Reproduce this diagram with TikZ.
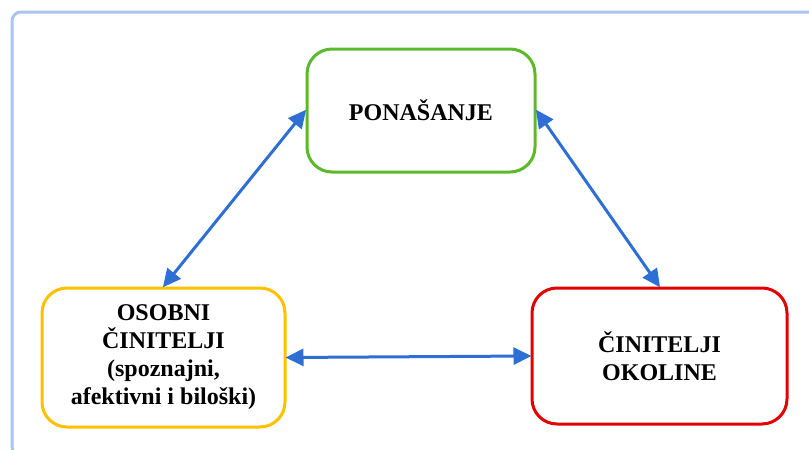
\documentclass[tikz,border=0pt]{standalone}
\usepackage{fontspec}
\setmainfont{Liberation Serif}
\usepackage{tikz}
\usetikzlibrary{arrows.meta}
\definecolor{frameblue}{HTML}{A9C5EC}
\definecolor{boxgreen}{HTML}{5DB92C}
\definecolor{boxyellow}{HTML}{FFC000}
\definecolor{boxred}{HTML}{E20000}
\definecolor{linkblue}{HTML}{2D6FD4}
\tikzstyle{factor}=[rectangle,rounded corners=25pt,line width=3pt,fill=white,align=center,inner sep=2pt,font=\bfseries\fontsize{24}{28}\selectfont]
\tikzstyle{link}=[line width=3pt,draw=linkblue,{Triangle[length=18pt,width=17pt]}-{Triangle[length=18pt,width=17pt]},shorten <=-1pt,shorten >=-1pt]

\begin{document}
\begin{tikzpicture}[x=1pt,y=-1pt]
    \useasboundingbox (0,0) rectangle (809,450);
    \clip (0,0) rectangle (809,450);
    % outer frame
    \draw[frameblue,line width=3pt,rounded corners=9pt] (12,12) rectangle (830,456);
    \node[factor,draw=boxgreen,minimum width=228pt,minimum height=123pt] (pon) at (421,110.5) {PONAŠANJE};
    \node[factor,draw=boxyellow,minimum width=243pt,minimum height=139pt] (osob) at (163.5,357.5) {OSOBNI\\ČINITELJI\\(spoznajni,\\afektivni i biloški)};
    \node[factor,draw=boxred,minimum width=255pt,minimum height=136pt] (okol) at (659.5,356) {ČINITELJI\\OKOLINE};
    \draw[link] (pon.west) -- (osob.north);
    \draw[link] (pon.east) -- (okol.north);
    \draw[link] (osob.east) -- (okol.west);
\end{tikzpicture}
\end{document}
